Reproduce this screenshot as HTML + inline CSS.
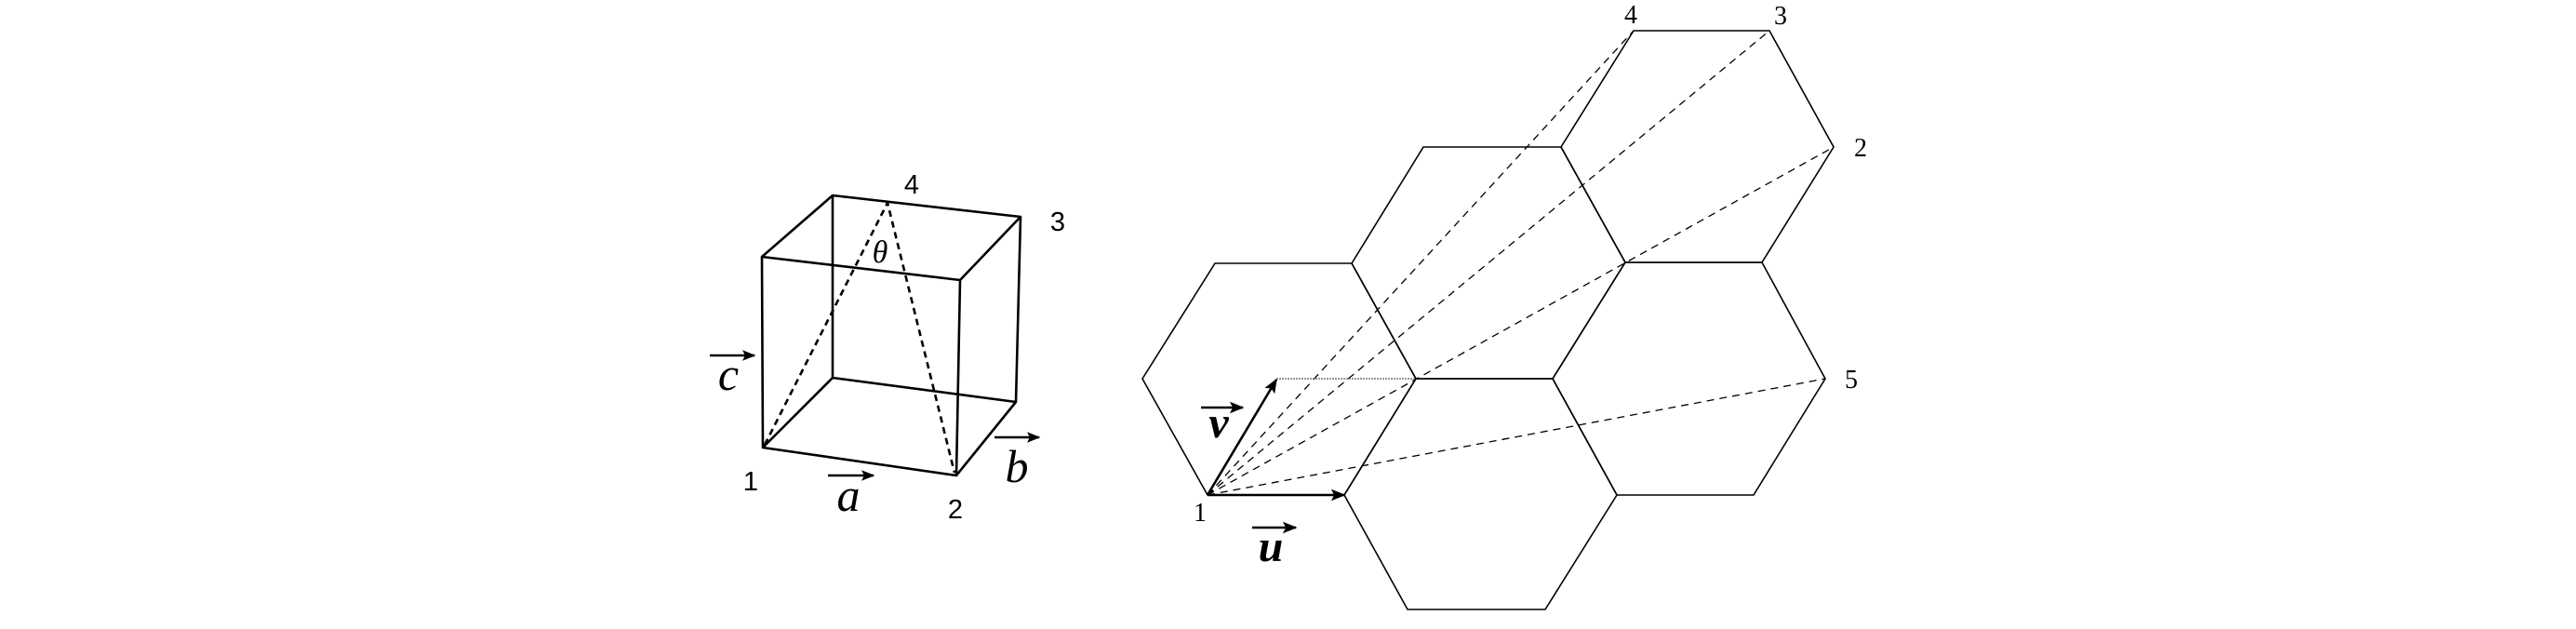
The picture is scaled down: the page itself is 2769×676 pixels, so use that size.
<!DOCTYPE html>
<html><head><meta charset="utf-8"><style>
html,body{margin:0;padding:0;background:#fff;}
svg{display:block;}
.sans{font-family:"Liberation Sans",sans-serif;}
.serif{font-family:"Liberation Serif",serif;}
</style></head><body>
<svg width="2769" height="676" viewBox="0 0 2769 676" xmlns="http://www.w3.org/2000/svg">
<defs>
<marker id="ah" viewBox="0 0 10 10" refX="9" refY="5" markerWidth="6" markerHeight="6" orient="auto"><path d="M0,1 L10,5 L0,9 L2,5 z" fill="#000"/></marker>
</defs>
<g stroke="#000" stroke-width="2.6" fill="none" stroke-linejoin="round">
<polygon points="819,276 1032,301 1028,511 820,481"/>
<polygon points="895,210 1097,233 1092,432 895,406"/>
<line x1="819" y1="276" x2="895" y2="210"/>
<line x1="1032" y1="301" x2="1097" y2="233"/>
<line x1="1028" y1="511" x2="1092" y2="432"/>
<line x1="820" y1="481" x2="895" y2="406"/>
<polyline points="822,478 954,218 1026,508" stroke-dasharray="7,5"/>
</g>
<g class="sans" font-size="29" fill="#000" text-anchor="middle">
<text x="980" y="208">4</text>
<text x="1137" y="248">3</text>
<text x="807" y="527">1</text>
<text x="1027" y="557">2</text>
</g>
<g class="serif" font-style="italic" fill="#000" text-anchor="middle">
<text x="946" y="282" font-size="34">θ</text>
<text x="783" y="419" font-size="50">c</text>
<text x="912" y="549" font-size="50">a</text>
<text x="1093" y="518" font-size="50">b</text>
</g>
<g stroke="#000" stroke-width="2.4" marker-end="url(#ah)">
<line x1="763" y1="382" x2="811" y2="382"/>
<line x1="890" y1="511" x2="939" y2="511"/>
<line x1="1069" y1="470" x2="1117" y2="470"/>
</g>

<g stroke="#000" stroke-width="1.6" fill="none">
<polygon points="1228,407 1306,283 1453,283 1522,407 1445,532 1298,532"/>
<polygon points="1453,283 1530,158 1678,158 1747,282 1669,407 1522,407"/>
<polygon points="1678,158 1756,33 1902,33 1971,158 1894,282 1747,282"/>
<polygon points="1445,532 1522,407 1669,407 1738,532 1661,655 1513,655"/>
<polygon points="1669,407 1747,282 1894,282 1962,407 1885,532 1738,532"/>
</g>
<g stroke="#000" stroke-width="1.3" stroke-dasharray="8,6" fill="none">
<line x1="1298" y1="532" x2="1756" y2="33"/>
<line x1="1298" y1="532" x2="1902" y2="33"/>
<line x1="1298" y1="532" x2="1971" y2="158"/>
<line x1="1298" y1="532" x2="1962" y2="407"/>
</g>
<line x1="1372" y1="407" x2="1522" y2="407" stroke="#777" stroke-width="1.4" stroke-dasharray="2,1"/>
<g stroke="#000" stroke-width="2.6" marker-end="url(#ah)">
<line x1="1298" y1="532" x2="1445" y2="532"/>
<line x1="1298" y1="532" x2="1372" y2="408"/>
<line x1="1346" y1="567" x2="1393" y2="567"/>
<line x1="1291" y1="438" x2="1336" y2="438"/>
</g>
<g class="serif" font-size="28" fill="#000" text-anchor="middle">
<text x="1290" y="560">1</text>
<text x="1753" y="25">4</text>
<text x="1914" y="26">3</text>
<text x="2000" y="168">2</text>
<text x="1990" y="417">5</text>
</g>
<g class="serif" font-style="italic" font-weight="bold" fill="#000" text-anchor="middle" font-size="48">
<text x="1366" y="603">u</text>
<text x="1310" y="470">v</text>
</g>
</svg>
</body></html>
